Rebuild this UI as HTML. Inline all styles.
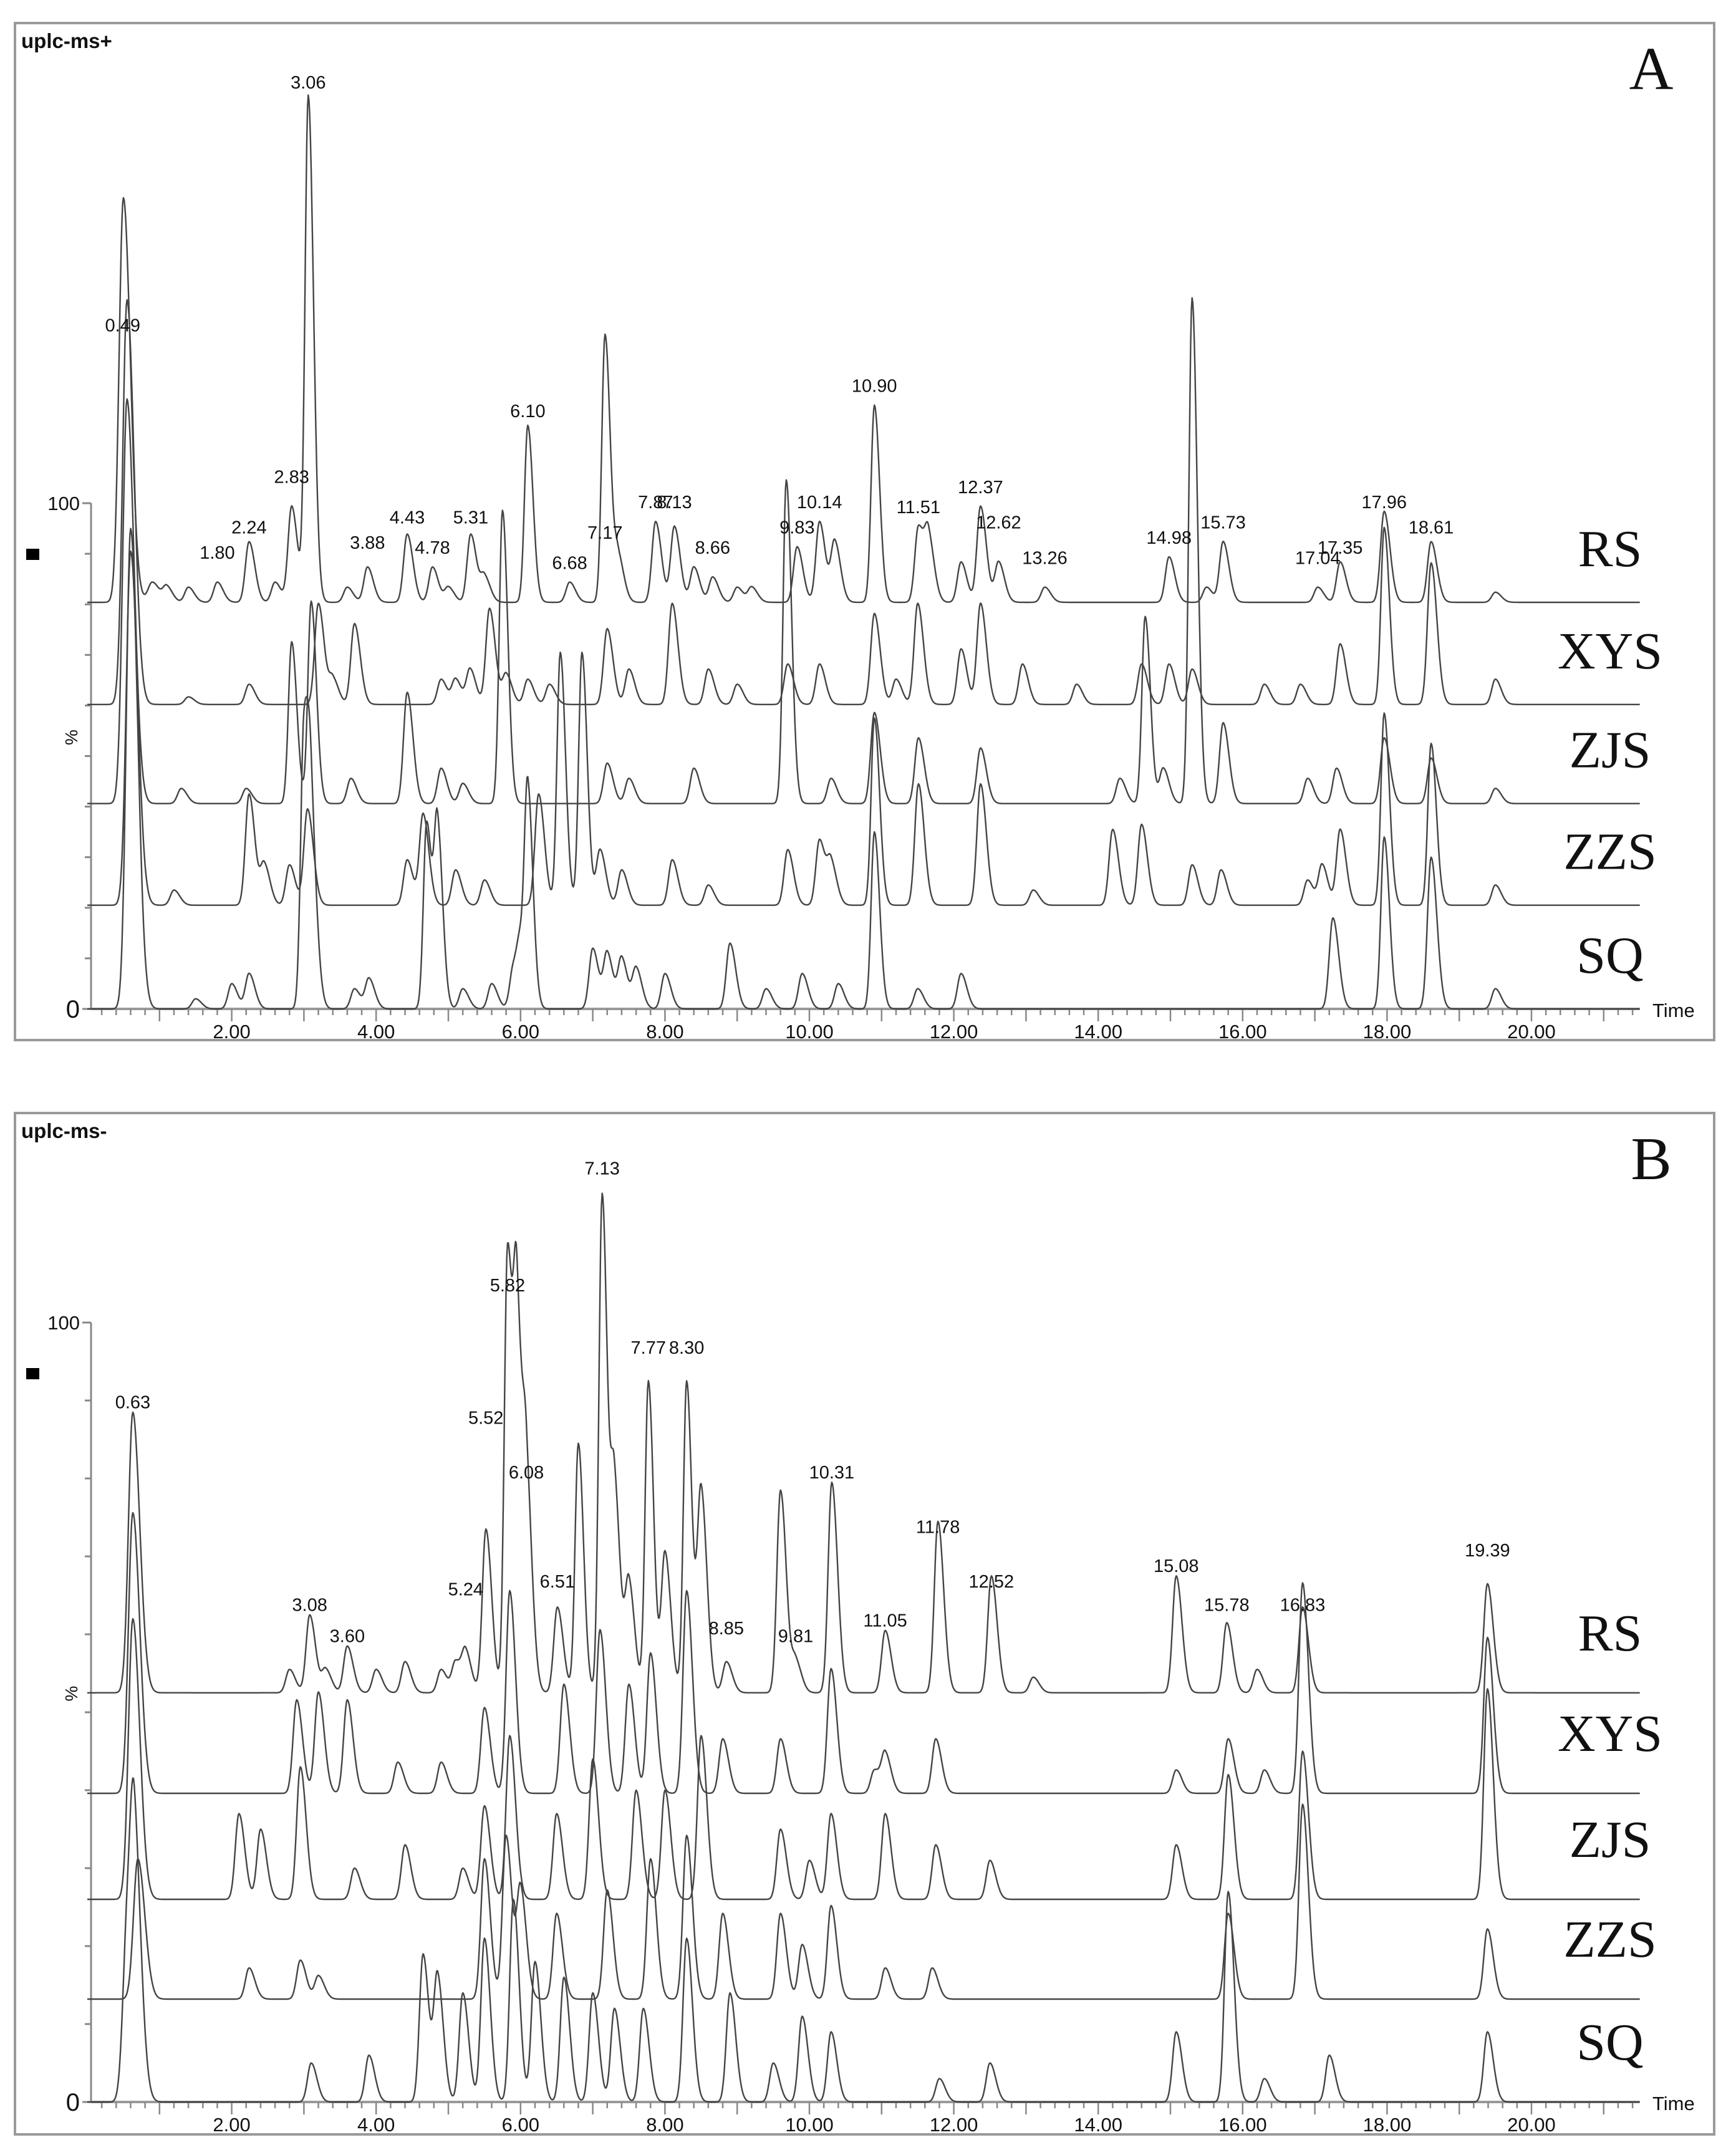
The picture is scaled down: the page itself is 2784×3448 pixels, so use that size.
<!DOCTYPE html>
<html><head><meta charset="utf-8">
<style>
html,body{margin:0;padding:0;background:#fff;}
svg{display:block;}
text{font-family:"Liberation Sans",Arial,sans-serif;fill:#111;}
.serif{font-family:"Liberation Serif","Times New Roman",serif;}
</style></head>
<body>
<svg id="fig" width="2784" height="3448" viewBox="0 0 2784 3448" xmlns="http://www.w3.org/2000/svg"></svg>
<script>
// ---------- Panel A (uplc-ms+) data: peak retention times (min) and heights (%) ----------
const rsA_t = [0.50,0.9,1.1,1.4,1.80,2.24,2.6,2.83,3.06,3.6,3.88,4.43,4.78,5.0,5.31,5.5,6.10,6.68,7.17,7.35,7.87,8.13,8.4,8.66,9.0,9.2,9.83,10.14,10.35,10.90,11.51,11.65,12.1,12.37,12.62,13.26,14.98,15.5,15.73,17.04,17.35,17.96,18.61,19.5];
const rsA_h = [80,4,3,3,4,12,4,19,100,3,7,13.5,7,3,13.5,5,35,4,53,9,16,15,7,5,3,3,11,16,12,39,15,12,8,19,8,3,9,3,12,3,8,18,12,2];
const xysA_t = [0.55,1.4,2.24,3.2,3.4,3.7,4.9,5.1,5.3,5.57,5.8,6.1,6.4,7.2,7.5,8.1,8.6,9.0,9.7,10.14,10.9,11.2,11.5,12.1,12.37,12.95,13.7,14.6,14.98,15.3,16.3,16.8,17.35,17.96,18.61,19.5];
const xysA_h = [80,1.5,4,20,5,16,5,5,7,19,6,5,4,15,7,20,7,4,8,8,18,5,20,11,20,8,4,8,8,7,4,4,12,35,28,5];
const zjsA_t = [0.55,1.3,2.2,2.83,3.1,3.65,4.43,4.9,5.2,5.75,7.2,7.5,8.4,9.68,10.3,10.9,11.51,12.37,14.3,14.65,14.9,15.3,15.73,16.9,17.3,17.96,18.61,19.5];
const zjsA_h = [80,3,3,32,40,5,22,7,4,58,8,5,7,64,5,18,13,11,5,37,7,100,16,5,7,13,9,3];
const zzsA_t = [0.6,1.2,2.24,2.45,2.8,3.05,4.43,4.65,5.1,5.5,6.25,6.55,6.85,7.1,7.4,8.1,8.6,9.7,10.14,10.3,10.9,11.51,12.37,13.1,14.2,14.6,15.3,15.7,16.9,17.1,17.35,17.96,18.61,19.5];
const zzsA_h = [70,3,22,8,8,19,9,18,7,5,22,50,50,11,7,9,4,11,13,8,37,24,24,3,15,16,8,7,5,8,15,38,32,4];
const sqA_t = [0.6,1.5,2.0,2.24,3.0,3.1,3.7,3.9,4.7,4.85,5.2,5.6,5.9,6.0,6.1,7.0,7.2,7.4,7.6,8.0,8.9,9.4,9.9,10.4,10.9,11.5,12.1,17.25,17.96,18.61,19.5];
const sqA_h = [95,2,5,7,55,30,4,6,37,35,4,5,8,10,41,12,11,10,8,7,13,4,7,5,35,4,7,18,34,30,4];
const labelsA_t = [0.49,1.80,2.24,2.83,3.06,3.88,4.43,4.78,5.31,6.10,6.68,7.17,7.87,8.13,8.66,9.83,10.14,10.90,11.51,12.37,12.62,13.26,14.98,15.73,17.04,17.35,17.96,18.61];
const labelsA_v = [134,89,94,104,182,91,96,90,96,117,87,93,99,99,90,94,99,122,98,102,95,88,92,95,88,90,99,94];

// ---------- Panel B (uplc-ms-) data ----------
const rsB_t = [0.63,2.8,3.08,3.3,3.6,4.0,4.4,4.9,5.1,5.24,5.52,5.82,5.95,6.08,6.51,6.8,7.13,7.3,7.5,7.77,8.0,8.30,8.5,8.85,9.6,9.81,10.31,11.05,11.78,12.52,13.1,15.08,15.78,16.2,16.83,19.39];
const rsB_h = [36,3,10,3,6,3,4,3,4,5,21,57,44,26,11,32,64,26,14,40,18,40,26,4,26,4,27,8,22,15,2,15,9,3,11,14];
const xysB_t = [0.63,2.9,3.2,3.6,4.3,4.9,5.5,5.85,6.6,7.1,7.5,7.8,8.3,8.8,9.6,10.3,10.9,11.05,11.75,15.08,15.8,16.3,16.83,19.39];
const xysB_h = [36,12,13,12,4,4,11,26,14,21,14,18,26,7,7,16,3,5,7,3,7,3,27,20];
const zjsB_t = [0.63,2.1,2.4,2.95,3.7,4.4,5.2,5.5,5.85,6.5,7.0,7.6,8.0,8.5,9.6,10.0,10.3,11.05,11.75,12.5,15.08,15.8,16.83,19.39];
const zjsB_h = [36,11,9,17,4,7,4,12,21,11,18,14,14,21,9,5,11,11,7,5,7,16,19,27];
const zzsB_t = [0.7,2.24,2.95,3.2,5.5,5.8,6.0,6.5,7.2,7.8,8.3,8.8,9.6,9.9,10.3,11.05,11.7,15.8,16.83,19.39];
const zzsB_h = [18,4,5,3,18,21,14,11,14,18,21,11,11,7,12,4,4,11,25,9];
const sqB_t = [0.55,0.65,3.1,3.9,4.65,4.85,5.2,5.5,5.9,6.2,6.6,7.0,7.3,7.7,8.3,8.9,9.5,9.9,10.3,11.8,12.5,15.08,15.8,16.3,17.2,19.39];
const sqB_h = [20,29,5,6,19,16,14,21,26,18,16,14,12,12,21,14,5,11,9,3,5,9,27,3,6,9];
const labelsB_t = [0.63,3.08,3.60,5.24,5.52,5.82,6.08,6.51,7.13,7.77,8.30,8.85,9.81,10.31,11.05,11.78,12.52,15.08,15.78,16.83,19.39];
const labelsB_v = [89,63,59,65,87,104,80,66,119,96,96,60,59,80,61,73,66,68,63,63,70];

const traceNames = ["RS","XYS","ZJS","ZZS","SQ"];
const offsetsA = [80.4,60.2,40.6,20.5,0];
const offsetsB = [52.5,39.6,26.0,13.2,0];
const xTicks = [2,4,6,8,10,12,14,16,18,20];

// ---------- layout ----------
const NS="http://www.w3.org/2000/svg";
const svg=document.getElementById('fig');
const X0=140, PXMIN=115.8, TMAX=21.5;
function xs(t){return X0+t*PXMIN;}
function mk(tag,attrs,parent){const e=document.createElementNS(NS,tag);for(const k in attrs)e.setAttribute(k,attrs[k]);(parent||svg).appendChild(e);return e;}

function signal(t,times,heights){
  let v=0;
  for(let i=0;i<times.length;i++){
    const c=times[i];const h=heights[i];
    const w=(c<1)?0.06:(h>30?0.045:0.05);
    const d=t-c;
    const ww=d>0?w*1.6:w;
    v+=h*Math.exp(-d*d/(2*ww*ww));
  }
  return v;
}

function drawPanel(p){
  const g=mk('g',{});
  
  
  const box=mk('rect',{x:p.left,y:p.top,width:2749-p.left,height:p.bottom-p.top,fill:'none',stroke:'#9a9a9a','stroke-width':4},g);
  
  
  const ys=v=>p.base-v*p.ppp;
  const title=mk('text',{x:p.left+10,y:p.top+40,'font-size':33,'font-weight':'bold'},g);
  title.textContent=p.title;
  
  
  const letter=mk('text',{x:2648,y:p.top+106,'font-size':98,'text-anchor':'middle',class:'serif'},g);
  letter.textContent=p.letter;
  
  
  const yax=mk('line',{x1:146,y1:ys(100),x2:146,y2:p.base,stroke:'#888','stroke-width':3},g);
  
  
  for(let v=0;v<=100;v+=10){
    const tk=mk('line',{x1:v===100||v===0?132:136,y1:ys(v),x2:146,y2:ys(v),stroke:'#888','stroke-width':3},g);
    
    
  }
  const l100=mk('text',{x:128,y:ys(100)+11,'font-size':31,'text-anchor':'end'},g);
  l100.textContent='100';
  
  
  const l0=mk('text',{x:128,y:p.base+14,'font-size':40,'text-anchor':'end'},g);
  l0.textContent='0';
  
  
  const sq=mk('rect',{x:42,y:ys(100)+73,width:21,height:18,fill:'#000'},g);
  
  
  const pct=mk('text',{x:0,y:0,'font-size':28,'text-anchor':'middle',transform:`translate(124,${ys(50)-30}) rotate(-90)`},g);
  pct.textContent='%';
  
  
  const xax=mk('line',{x1:146,y1:p.base,x2:xs(TMAX),y2:p.base,stroke:'#999','stroke-width':4},g);
  
  
  for(let i=1;i<=107;i++){
    const t=i*0.2;
    const major=(i%5===0);
    const tk=mk('line',{x1:xs(t),y1:p.base,x2:xs(t),y2:p.base+(major?20:10),stroke:'#888','stroke-width':2.5},g);
    
    
  }
  xTicks.forEach(t=>{
    const tl=mk('text',{x:xs(t),y:p.base+47,'font-size':31,'text-anchor':'middle'},g);
    tl.textContent=t.toFixed(2);
    
    
  });
  const tm=mk('text',{x:2650,y:p.base+13,'font-size':31},g);
  tm.textContent='Time';
  
  
  p.series.forEach((s,k)=>{
    let d='';
    for(let t=0;t<=TMAX+1e-9;t+=0.01){
      const v=p.offsets[k]+signal(t,s[0],s[1]);
      d+=(d?'L':'M')+xs(t).toFixed(1)+','+ys(v).toFixed(1);
    }
    const path=mk('path',{d:d,fill:'none',stroke:'#444','stroke-width':2.4,'stroke-linejoin':'round'},g);
    
    
    const nm=mk('text',{x:2582,y:ys(p.offsets[k])-p.labelLift,'font-size':84,'text-anchor':'middle',class:'serif'},g);
    nm.textContent=traceNames[k];
    
    
  });
  p.labT.forEach((t,i)=>{
    const lb=mk('text',{x:xs(t),y:ys(p.labV[i]),'font-size':29,'text-anchor':'middle'},g);
    lb.textContent=t.toFixed(2);
    
    
  });
}

drawPanel({name:'panel-a',title:'uplc-ms+',letter:'A',left:24,top:37,bottom:1668,base:1618,ppp:8.11,
  offsets:offsetsA,labelLift:58,
  series:[[rsA_t,rsA_h],[xysA_t,xysA_h],[zjsA_t,zjsA_h],[zzsA_t,zzsA_h],[sqA_t,sqA_h]],
  labT:labelsA_t,labV:labelsA_v});
drawPanel({name:'panel-b',title:'uplc-ms-',letter:'B',left:24,top:1785,bottom:3423,base:3371,ppp:12.5,
  offsets:offsetsB,labelLift:68,
  series:[[rsB_t,rsB_h],[xysB_t,xysB_h],[zjsB_t,zjsB_h],[zzsB_t,zzsB_h],[sqB_t,sqB_h]],
  labT:labelsB_t,labV:labelsB_v});
</script>
</body></html>
